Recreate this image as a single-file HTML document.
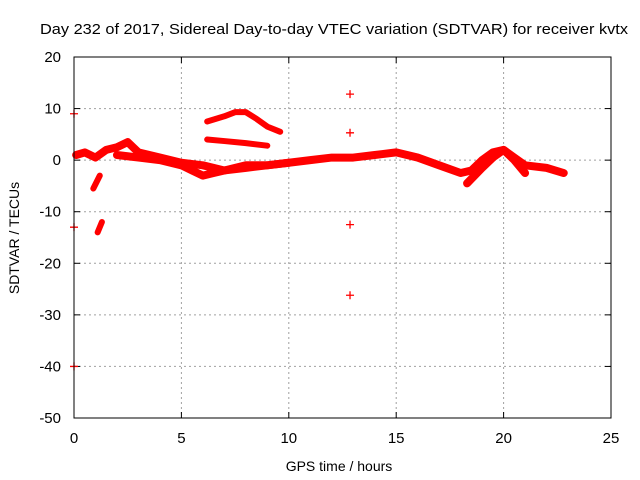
<!DOCTYPE html>
<html><head><meta charset="utf-8"><style>
body{margin:0;background:#fff;}
svg{display:block;font-family:"Liberation Sans",sans-serif;}
</style></head><body>
<svg id="chart" width="640" height="480">
<rect x="0" y="0" width="640" height="480" fill="#fff"/>
<text x="40" y="34" font-size="15" textLength="588" lengthAdjust="spacingAndGlyphs">Day 232 of 2017, Sidereal Day-to-day VTEC variation (SDTVAR) for receiver kvtx</text>
<text x="339" y="471" font-size="14" text-anchor="middle">GPS time / hours</text>
<text transform="translate(19,238) rotate(-90)" font-size="14" text-anchor="middle">SDTVAR / TECUs</text>
<g id="grid"></g><g id="data"></g>
<rect x="74" y="57" width="537" height="361" fill="none" stroke="#000" stroke-width="1"/>
</svg>
<script>
const xTicks=[0,5,10,15,20,25];
const yTicks=[-50,-40,-30,-20,-10,0,10,20];
const trackMain=[[0.1,1],[0.5,1.5],[1,0.5],[1.5,2],[2,2.5],[2.5,3.5],[3,1.5],[4,0.5],[5,-0.5],[6,-1],[6.5,-1.5],[7,-2],[8,-1.5],[9,-1],[10,-0.5],[11,0],[12,0.5],[13,0.5],[14,1],[15,1.5],[16,0.5],[17,-1],[18,-2.5],[18.5,-2],[19,0],[19.5,1.5],[20,2],[20.5,0.5],[21,-1],[22,-1.5],[22.8,-2.5]];
const trackLow=[[2,1],[3,0.5],[4,0],[5,-1],[5.5,-2],[6,-3],[6.5,-2.5],[7,-2],[8,-1],[9,-1],[10,-0.5]];
const trackDip=[[18.3,-4.5],[19,-1.5],[19.5,0.5],[20,2],[20.5,0],[21,-2.5]];
const trackArc=[[6.2,7.5],[7,8.5],[7.5,9.3],[8,9.3],[8.5,8],[9,6.5],[9.6,5.5]];
const trackMid=[[6.2,4],[7,3.7],[8,3.3],[9,2.8]];
const trackNeg1=[[0.9,-5.5],[1.2,-3]];
const trackNeg2=[[1.1,-14],[1.3,-12]];
const pointsX=[12.85,12.85,12.85,12.85,0,0,0];
const pointsY=[12.8,5.3,-12.5,-26.2,9,-13,-40];
const NS="http://www.w3.org/2000/svg";
const X0=74,X1=611,Y0=418,Y1=57;
const sx=v=>X0+(v-0)/(25-0)*(X1-X0);
const sy=v=>Y0-(v+50)/(70)*(Y0-Y1);
const svg=document.getElementById('chart'),grid=document.getElementById('grid'),data=document.getElementById('data');
function mk(tag,attrs,parent){const e=document.createElementNS(NS,tag);for(const k in attrs)e.setAttribute(k,attrs[k]);parent.appendChild(e);return e;}
xTicks.forEach(t=>{const x=sx(t);
 if(t>0&&t<25){const g=mk('line',{x1:x,x2:x,y1:Y1,y2:Y0,stroke:'#a0a0a0','stroke-dasharray':'2,3'},grid);
 
 }
 mk('line',{x1:x,x2:x,y1:Y0,y2:Y0-6,stroke:'#000'},grid);
 mk('line',{x1:x,x2:x,y1:Y1,y2:Y1+6,stroke:'#000'},grid);
 const l=mk('text',{x:x,y:443,'font-size':15,'text-anchor':'middle'},grid);l.textContent=t;
 
 });
yTicks.forEach(t=>{const y=sy(t);
 if(t>-50&&t<20){const g=mk('line',{x1:X0,x2:X1,y1:y,y2:y,stroke:'#a0a0a0','stroke-dasharray':'2,3'},grid);
 
 }
 mk('line',{x1:X0,x2:X0+6,y1:y,y2:y,stroke:'#000'},grid);
 mk('line',{x1:X1,x2:X1-6,y1:y,y2:y,stroke:'#000'},grid);
 const l=mk('text',{x:61,y:y+5,'font-size':15,'text-anchor':'end'},grid);l.textContent=t;
 
 });
[trackMain,trackLow,trackDip,trackArc,trackMid,trackNeg1,trackNeg2].forEach((tr,i)=>{
 const p=mk('polyline',{points:tr.map(d=>sx(d[0])+','+sy(d[1])).join(' '),fill:'none',stroke:'#ff0000','stroke-width':i<3?8:6,'stroke-linejoin':'round','stroke-linecap':'round'},data);
 
 });
pointsX.forEach((v,i)=>{const x=sx(v),y=sy(pointsY[i]);
 const p=mk('path',{d:`M${x-4},${y}H${x+4}M${x},${y-4}V${y+4}`,stroke:'#ff0000','stroke-width':1.3},data);
 
 });
</script>
</body></html>
